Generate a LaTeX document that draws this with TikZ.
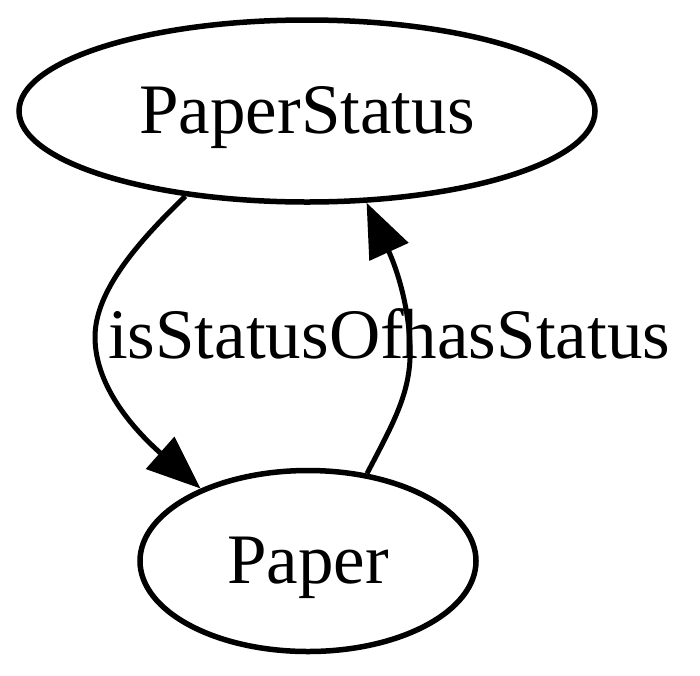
\documentclass[tikz,border=0pt]{standalone}
\usepackage{fontspec}
\setmainfont{Liberation Serif}
\usetikzlibrary{arrows.meta,shapes.geometric}
\begin{document}
\begin{tikzpicture}[x=1pt,y=-1pt,
  every node/.style={font=\fontsize{71}{85}\selectfont},
  vertex/.style={draw,ellipse,line width=5.5pt,inner sep=0pt,text height=48pt,text depth=4pt},
  edge/.style={line width=5pt,-{Triangle[length=54pt,width=42pt]}},
  lbl/.style={anchor=base,inner sep=0pt}]
\useasboundingbox (0,0) rectangle (700,675);
\node[vertex,minimum width=576pt,minimum height=182pt] (ps) at (307,111) {PaperStatus};
\node[vertex,minimum width=336pt,minimum height=181pt] (pa) at (308,561) {Paper};
\draw[edge] (ps.215) .. controls (140,240) and (95,290) .. (95,337)
  .. controls (95,390) and (140,435) .. (pa.146);
\draw[edge] (pa.56) .. controls (395,420) and (412,390) .. (410,345)
  .. controls (408,300) and (395,265) .. (ps.303);
\node[lbl] (l1) at (256,358) {isStatusOf};
\node[lbl] (l2) at (536,358) {hasStatus};
\end{tikzpicture}
\end{document}
